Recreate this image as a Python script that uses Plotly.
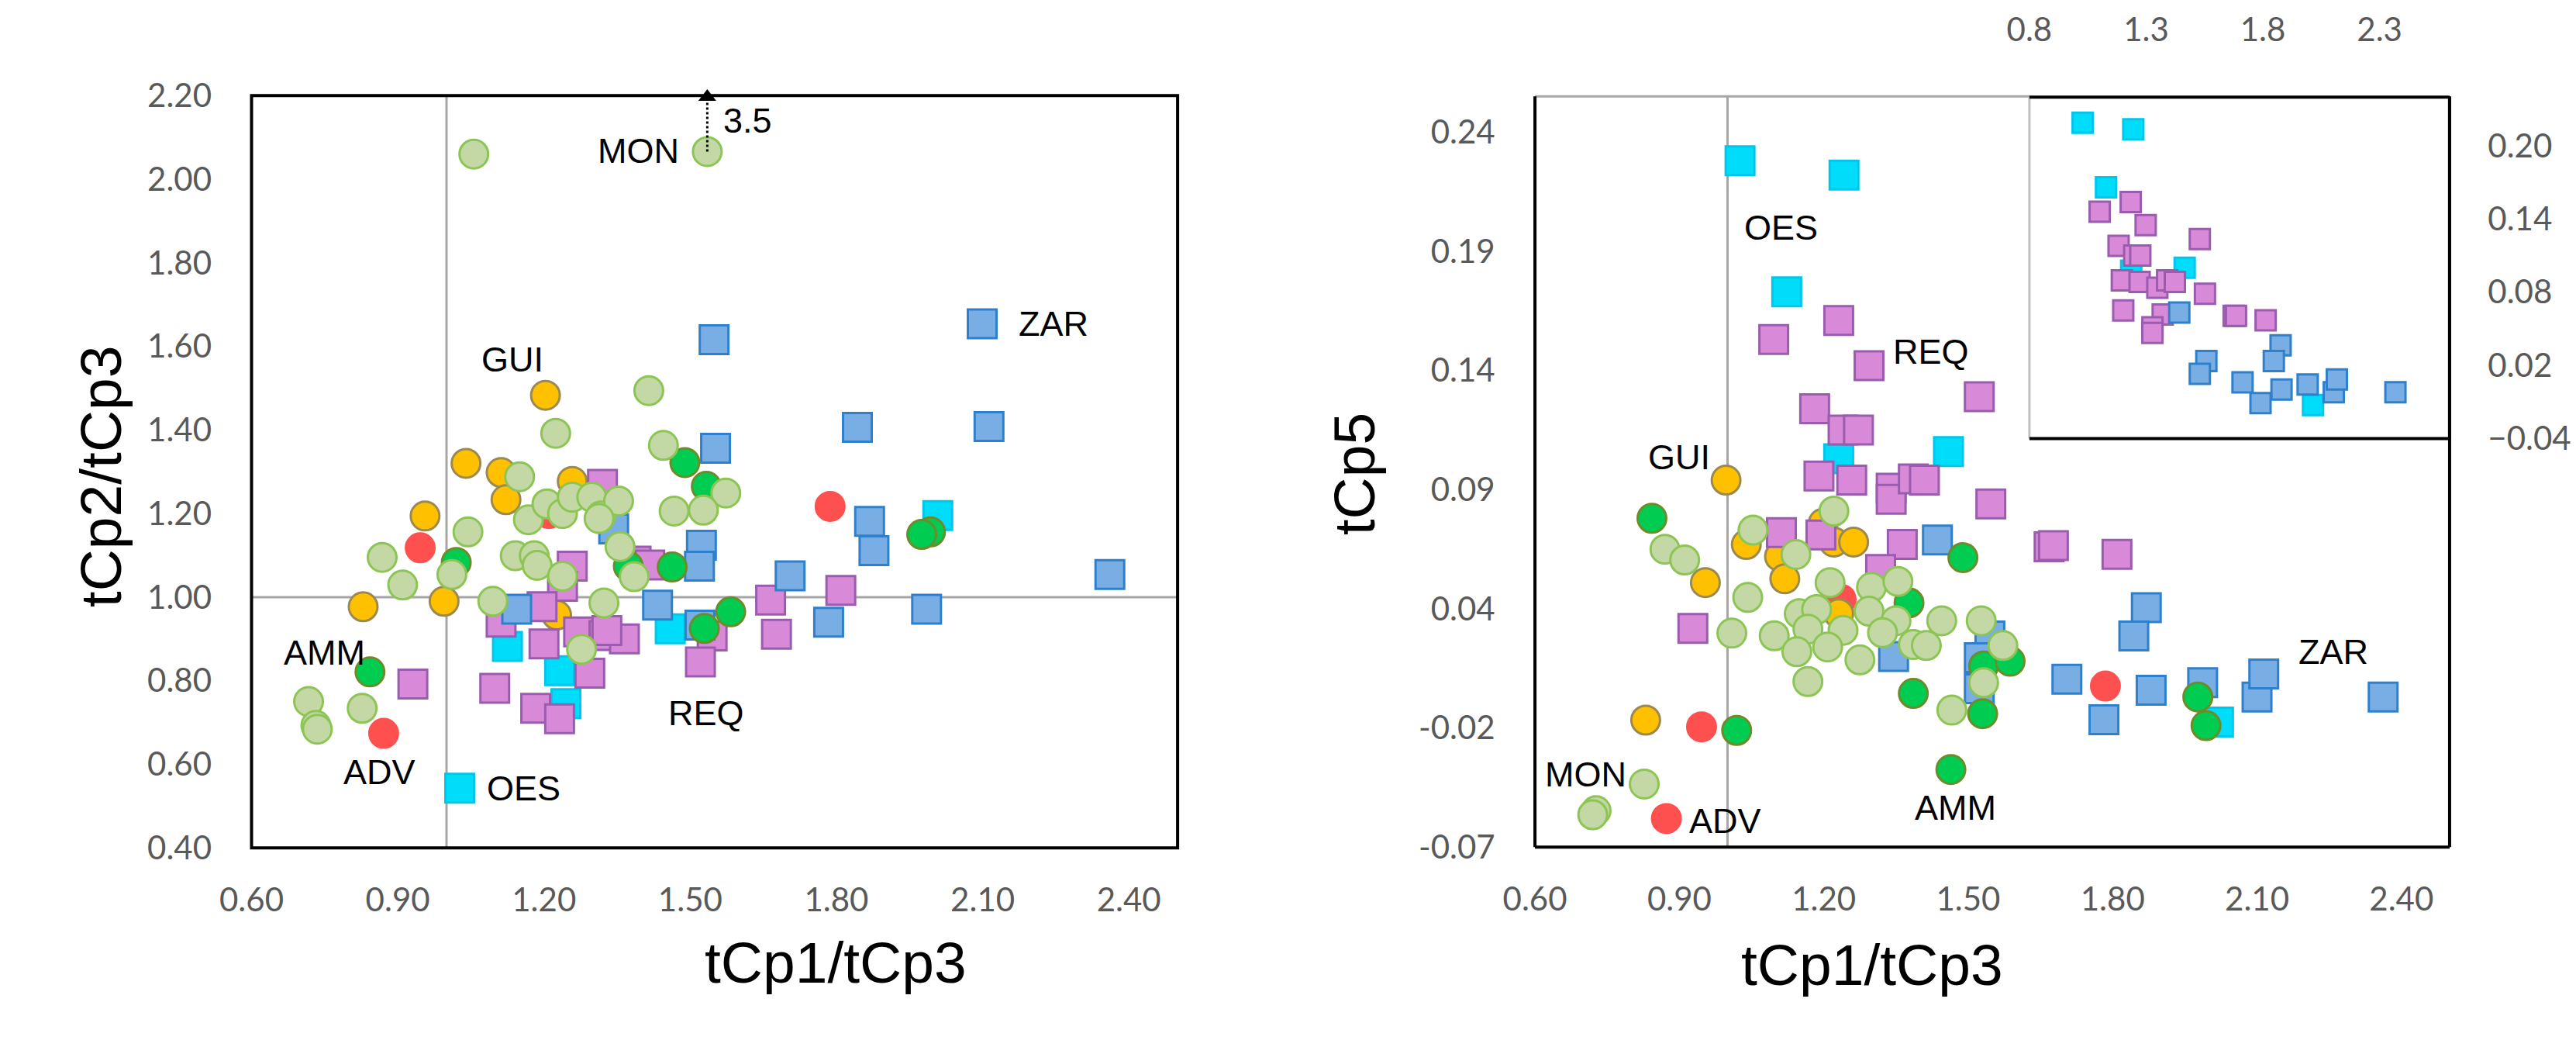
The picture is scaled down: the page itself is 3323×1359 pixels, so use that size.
import plotly.graph_objects as go

# ---- left panel: tCp1/tCp3 vs tCp2/tCp3 ----
lg_a_x = [1.056, 1.535, 1.224, 1.150, 1.044, 1.168, 1.206, 1.238, 1.258, 1.298, 1.317, 0.868, 1.011, 0.910, 1.095,
          1.141, 1.180, 1.186, 1.238, 1.277, 1.323, 0.717, 0.827, 0.732, 0.735, 1.415, 1.445, 1.573, 1.353, 1.313,
          1.467, 1.527, 1.356, 1.385]
lg_a_y = [2.060, 2.066, 1.392, 1.288, 1.156, 1.185, 1.223, 1.200, 1.239, 1.239, 1.194, 1.095, 1.054, 1.029, 0.990,
          1.099, 1.099, 1.076, 1.050, 0.875, 0.986, 0.750, 0.734, 0.693, 0.684, 1.494, 1.363, 1.249, 1.230, 1.188,
          1.206, 1.208, 1.121, 1.049]
dg_a_x = [1.020, 0.843, 1.489, 1.533, 1.993, 1.975, 1.373, 1.463, 1.583, 1.529]
dg_a_y = [1.083, 0.821, 1.322, 1.265, 1.156, 1.150, 1.074, 1.072, 0.965, 0.925]
or_a_x = [1.203, 1.040, 1.112, 1.258, 1.122, 0.956, 0.829, 0.995, 1.226]
or_a_y = [1.483, 1.320, 1.298, 1.277, 1.233, 1.194, 0.977, 0.990, 0.957]
rd_a_x = [0.946, 0.871, 1.787, 1.210]
rd_a_y = [1.118, 0.674, 1.217, 1.200]
bl_a_x = [1.549, 2.099, 1.552, 1.843, 2.113, 1.343, 1.868, 1.877, 1.523, 1.519, 1.144, 1.433, 1.705, 2.361, 1.985,
          1.784, 1.520]
bl_a_y = [1.616, 1.654, 1.356, 1.406, 1.408, 1.163, 1.181, 1.111, 1.124, 1.074, 0.971, 0.981, 1.051, 1.054, 0.971,
          0.940, 0.933]
cy_a_x = [1.027, 1.125, 1.232, 1.245, 2.008, 1.459]
cy_a_y = [0.543, 0.882, 0.824, 0.745, 1.195, 0.924]
pu_a_x = [1.320, 1.258, 1.238, 1.389, 1.417, 1.112, 1.196, 1.271, 1.200, 1.323, 1.294, 1.099, 1.183, 1.232, 0.931,
          1.665, 1.809, 1.545, 1.677, 1.521, 1.365, 1.329]
pu_a_y = [1.270, 1.074, 1.026, 1.086, 1.077, 0.940, 0.977, 0.917, 0.888, 0.908, 0.818, 0.782, 0.734, 0.709, 0.792,
          0.993, 1.016, 0.907, 0.911, 0.845, 0.900, 0.920]

# ---- right panel: tCp1/tCp3 vs tCp5 ----
lg_b_x = [1.053, 0.870, 0.911, 1.221, 1.142, 1.042, 1.213, 1.299, 1.354, 1.149, 1.185, 1.294, 1.350, 1.445, 1.527,
          1.009, 1.097, 1.167, 1.240, 1.322, 1.144, 1.208, 1.275, 1.386, 1.413, 1.572, 1.532, 1.167, 1.466, 0.827,
          0.727, 0.720]
lg_b_y = [0.068, 0.060, 0.0555, 0.076, 0.0578, 0.0398, 0.046, 0.044, 0.0465, 0.033, 0.0347, 0.034, 0.030, 0.030,
          0.030, 0.0248, 0.0237, 0.0265, 0.026, 0.025, 0.017, 0.019, 0.0136, 0.020, 0.0196, 0.0196, 0.004, 0.0045,
          -0.0075, -0.0385, -0.0497, -0.0514]
dg_b_x = [0.843, 1.489, 1.377, 1.532, 1.587, 1.386, 1.530, 1.019, 1.464, 1.977, 1.994]
dg_b_y = [0.073, 0.0565, 0.0375, 0.011, 0.013, -0.0005, -0.009, -0.016, -0.0324, -0.002, -0.014]
or_b_x = [0.997, 1.039, 1.199, 1.221, 1.262, 1.108, 1.119, 0.954, 1.231, 0.830]
or_b_y = [0.089, 0.062, 0.071, 0.063, 0.063, 0.057, 0.0476, 0.046, 0.033, -0.0117]
rd_b_x = [1.236, 0.946, 0.873, 1.785]
rd_b_y = [0.039, -0.0145, -0.053, 0.0026]
bl_b_x = [1.436, 1.345, 1.545, 1.523, 1.523, 1.870, 1.844, 1.705, 1.782, 1.880, 1.987, 2.100, 2.114, 2.362]
bl_b_y = [0.0639, 0.015, 0.0236, 0.0145, 0.0015, 0.0355, 0.0236, 0.0055, -0.0115, 0.0008, 0.004, -0.002, 0.0077,
          -0.002]
cy_b_x = [1.026, 1.242, 1.123, 1.231, 1.459, 2.020]
cy_b_y = [0.223, 0.217, 0.168, 0.098, 0.101, -0.0125]
pu_b_x = [1.231, 1.096, 1.294, 1.523, 1.181, 1.240, 1.272, 1.190, 1.258, 1.340, 1.340, 1.386, 1.409, 1.547, 1.112,
          1.194, 1.363, 1.318, 0.928, 1.668, 1.677, 1.809]
pu_b_y = [0.156, 0.148, 0.137, 0.124, 0.119, 0.110, 0.110, 0.0907, 0.089, 0.0856, 0.081, 0.0895, 0.089, 0.079,
          0.067, 0.066, 0.062, 0.0515, 0.0268, 0.061, 0.0615, 0.0579]

# ---- inset (squares only) ----
cy_c_x = [1.028, 1.245, 1.128, 1.236, 1.465, 2.015]
cy_c_y = [0.219, 0.2136, 0.166, 0.0976, 0.100, -0.0126]
pu_c_x = [1.234, 1.101, 1.298, 1.530, 1.182, 1.249, 1.275, 1.196, 1.272, 1.348, 1.390, 1.423, 1.552, 1.202, 1.371,
          1.327, 1.327, 1.675, 1.685, 1.812]
pu_c_y = [0.154, 0.146, 0.135, 0.1236, 0.118, 0.110, 0.110, 0.0897, 0.0885, 0.0836, 0.0897, 0.0885, 0.0788, 0.065,
          0.0617, 0.0512, 0.0467, 0.0606, 0.0606, 0.057]
bl_c_x = [1.442, 1.876, 1.847, 1.558, 1.530, 1.713, 1.790, 1.880, 1.992, 2.104, 2.117, 2.368]
bl_c_y = [0.0633, 0.0364, 0.0236, 0.0236, 0.013, 0.006, -0.011, 0.0002, 0.0043, -0.002, 0.0085, -0.002]

# MON is off scale (3.5): dotted arrow from its marker to the top edge
mon_x = 1.535
mon_y = 2.066

# ticks
x_ticks = [0.6, 0.9, 1.2, 1.5, 1.8, 2.1, 2.4]
ya_ticks = [0.4, 0.6, 0.8, 1.0, 1.2, 1.4, 1.6, 1.8, 2.0, 2.2]
yb_ticks = [-0.065, -0.015, 0.035, 0.085, 0.135, 0.185, 0.235]
yb_labels = ["-0.07", "-0.02", "0.04", "0.09", "0.14", "0.19", "0.24"]
xc_ticks = [0.8, 1.3, 1.8, 2.3]
yc_ticks = [-0.04, 0.02, 0.08, 0.14, 0.20]

# point labels
lab_a = [("MON", 1.481, 2.068, "right"), ("GUI", 1.135, 1.569, "center"), ("ZAR", 2.17, 1.654, "left"),
         ("AMM", 0.749, 0.868, "center"), ("ADV", 0.862, 0.582, "center"), ("OES", 1.08, 0.543, "left"),
         ("REQ", 1.533, 0.722, "center"), ("3.5", 1.565, 2.14, "left")]
lab_b = [("OES", 1.031, 0.195, "left"), ("REQ", 1.423, 0.143, "center"), ("GUI", 0.90, 0.0985, "center"),
         ("MON", 0.706, -0.0346, "center"), ("ADV", 0.996, -0.054, "center"), ("AMM", 1.474, -0.0486, "center"),
         ("ZAR", 2.258, 0.017, "center")]

styles = {
    "rd": dict(color="#FF5050", line=dict(color="#FF5050", width=3), symbol="circle"),
    "or": dict(color="#FFC000", line=dict(color="#9A8A50", width=3), symbol="circle"),
    "cy": dict(color="#00DDFB", line=dict(color="#00C6EC", width=3), symbol="square"),
    "pu": dict(color="#D88AD8", line=dict(color="#9A5CAE", width=3), symbol="square"),
    "bl": dict(color="#78AEE3", line=dict(color="#2E80CC", width=3), symbol="square"),
    "dg": dict(color="#00CC52", line=dict(color="#6E8B2A", width=3), symbol="circle"),
    "lg": dict(color="#C3D8A4", line=dict(color="#8DC554", width=3), symbol="circle"),
}

fig = go.Figure()


def add(xs, ys, key, xa, ya, size):
    fig.add_trace(go.Scatter(x=xs, y=ys, mode="markers", xaxis=xa, yaxis=ya,
                             marker=dict(size=size, **styles[key]), hoverinfo="skip"))


for key, xs, ys in [("rd", rd_a_x, rd_a_y), ("or", or_a_x, or_a_y), ("cy", cy_a_x, cy_a_y),
                    ("pu", pu_a_x, pu_a_y), ("bl", bl_a_x, bl_a_y), ("dg", dg_a_x, dg_a_y),
                    ("lg", lg_a_x, lg_a_y)]:
    add(xs, ys, key, "x", "y", 37)
for key, xs, ys in [("rd", rd_b_x, rd_b_y), ("or", or_b_x, or_b_y), ("cy", cy_b_x, cy_b_y),
                    ("pu", pu_b_x, pu_b_y), ("bl", bl_b_x, bl_b_y), ("dg", dg_b_x, dg_b_y),
                    ("lg", lg_b_x, lg_b_y)]:
    add(xs, ys, key, "x2", "y2", 37)
for key, xs, ys in [("cy", cy_c_x, cy_c_y), ("pu", pu_c_x, pu_c_y), ("bl", bl_c_x, bl_c_y)]:
    add(xs, ys, key, "x3", "y3", 26)

# dotted shaft + arrow head pointing to the off-scale MON value
fig.add_trace(go.Scatter(x=[mon_x, mon_x], y=[mon_y, 2.19], mode="lines", xaxis="x", yaxis="y",
                         line=dict(color="black", width=3, dash="dot"), hoverinfo="skip", cliponaxis=False))
fig.add_trace(go.Scatter(x=[mon_x], y=[2.197], mode="markers", xaxis="x", yaxis="y", cliponaxis=False,
                         marker=dict(symbol="triangle-up", size=20, color="black"), hoverinfo="skip"))

tickfont = dict(family="Lato", size=42, color="#595959")
common = dict(showgrid=False, zeroline=False, showline=False, ticks="outside",
              tickcolor="rgba(0,0,0,0)", tickfont=tickfont)

fig.update_layout(
    width=3323, height=1359, margin=dict(l=0, r=0, t=0, b=0),
    paper_bgcolor="white", plot_bgcolor="white", showlegend=False,
    xaxis=dict(domain=[0.0861, 0.4502], range=[0.6, 2.5], tickvals=x_ticks, tickformat=".2f",
               ticklen=30, anchor="y", **common),
    yaxis=dict(domain=[0.1847, 0.9257], range=[0.4, 2.2], tickvals=ya_ticks, tickformat=".2f",
               ticklen=42, anchor="x", **common),
    xaxis2=dict(domain=[0.5907, 0.9503], range=[0.6, 2.5], tickvals=x_ticks, tickformat=".2f",
                ticklen=30, anchor="y2", **common),
    yaxis2=dict(domain=[0.1854, 0.9249], range=[-0.065, 0.25], tickvals=yb_ticks, ticktext=yb_labels,
                ticklen=42, anchor="x2", **common),
    xaxis3=dict(domain=[0.7851, 0.9503], range=[0.8, 2.6], tickvals=xc_ticks, tickformat=".1f",
                side="top", ticklen=54, anchor="y3", **common),
    yaxis3=dict(domain=[0.5879, 0.9242], range=[-0.04, 0.24], tickvals=yc_ticks, tickformat=".2f",
                side="right", ticklen=40, anchor="x3", **common),
)

black = dict(color="black", width=4)
gray = dict(color="#A6A6A6", width=3)
shapes = [
    # left panel box and reference lines
    dict(type="line", xref="x", yref="y domain", x0=1.0, x1=1.0, y0=0, y1=1, line=gray, layer="below"),
    dict(type="line", xref="x domain", yref="y", x0=0, x1=1, y0=1.0, y1=1.0, line=gray, layer="below"),
    dict(type="rect", xref="x domain", yref="y domain", x0=0, x1=1, y0=0, y1=1, line=black),
    # right panel
    dict(type="line", xref="x2", yref="y2 domain", x0=1.0, x1=1.0, y0=0, y1=1, line=gray, layer="below"),
    dict(type="line", xref="x2 domain", yref="y2 domain", x0=0, x1=0.5406, y0=1, y1=1, line=gray),
    dict(type="line", xref="x2 domain", yref="y2 domain", x0=0, x1=0, y0=0, y1=1, line=black),
    dict(type="line", xref="x2 domain", yref="y2 domain", x0=0, x1=1, y0=0, y1=0, line=black),
    dict(type="line", xref="x2 domain", yref="y2 domain", x0=1, x1=1, y0=0, y1=1, line=black),
    # inset
    dict(type="line", xref="x3 domain", yref="y3", x0=0, x1=1, y0=0, y1=0, line=dict(color="#C0C0C0", width=3),
         layer="below"),
    dict(type="line", xref="x3 domain", yref="y3 domain", x0=0, x1=0, y0=0, y1=1,
         line=dict(color="#C0C0C0", width=3)),
    dict(type="line", xref="x3 domain", yref="y3 domain", x0=0, x1=1, y0=1, y1=1, line=black),
    dict(type="line", xref="x3 domain", yref="y3 domain", x0=0, x1=1, y0=0, y1=0, line=black),
    dict(type="line", xref="x3 domain", yref="y3 domain", x0=1, x1=1, y0=0, y1=1, line=black),
]
fig.update_layout(shapes=shapes)

lab_font = dict(family="Liberation Sans", size=45, color="black")
anns = []
for txt, x, y, anc in lab_a:
    anns.append(dict(text=txt, x=x, y=y, xref="x", yref="y", xanchor=anc, yanchor="middle",
                     showarrow=False, font=lab_font))
for txt, x, y, anc in lab_b:
    anns.append(dict(text=txt, x=x, y=y, xref="x2", yref="y2", xanchor=anc, yanchor="middle",
                     showarrow=False, font=lab_font))

title_font = dict(family="Liberation Sans", size=75, color="black")
anns += [
    dict(text="tCp1/tCp3", x=0.2636, y=0.0383, xref="paper", yref="paper", showarrow=False, font=title_font),
    dict(text="tCp1/tCp3", x=0.7755, y=0.036, xref="paper", yref="paper", showarrow=False, font=title_font),
    dict(text="tCp2/tCp3", x=44 / 3323, y=0.551, xref="paper", yref="paper", showarrow=False,
         textangle=-90, font=title_font),
    dict(text="tCp5", x=1727 / 3323, y=0.553, xref="paper", yref="paper", showarrow=False,
         textangle=-90, font=title_font),
]
fig.update_layout(annotations=anns)

fig.write_html("out.html", config={"displayModeBar": False},
               post_script="document.body.style.margin='0';")
